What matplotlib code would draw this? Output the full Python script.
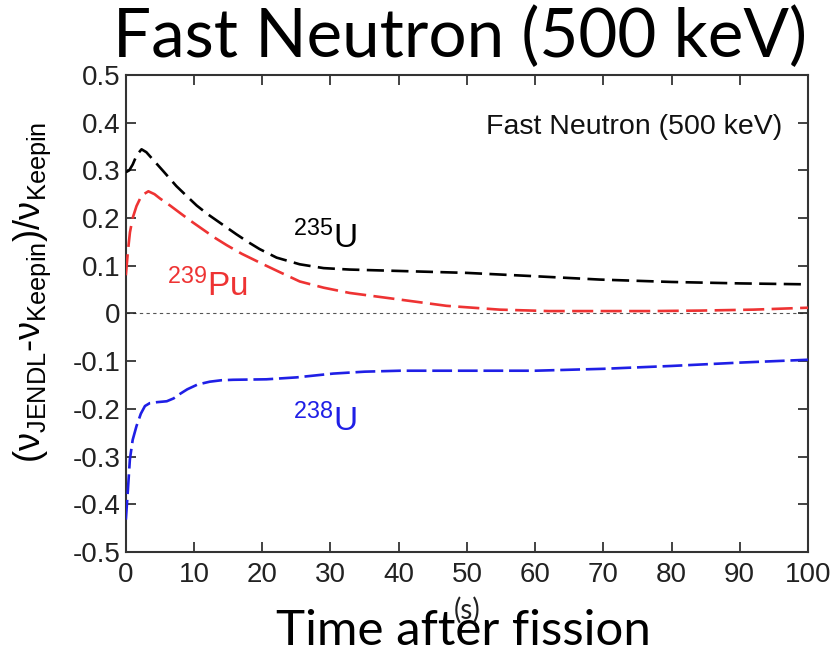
import matplotlib
matplotlib.use("Agg")
import matplotlib.pyplot as plt

plt.rcParams['mathtext.fontset'] = 'custom'
plt.rcParams['mathtext.rm'] = 'Liberation Sans'
plt.rcParams['mathtext.it'] = 'Liberation Sans:italic'
plt.rcParams['mathtext.bf'] = 'Liberation Sans:bold'
plt.rcParams['font.family'] = ['Liberation Sans', 'DejaVu Sans']

# Relative difference of delayed neutron yield, JENDL vs Keepin
t_u235 = [0.0, 0.5, 1.0, 1.6, 2.3, 3.0, 4.0, 5.5, 7.4, 9.0, 10.4, 12.0, 13.8, 16.2, 18.0, 19.6, 22.1, 25.5, 29.0, 32.8, 40.2, 50.0, 60.0, 69.5, 80.0, 90.0, 100.0]
v_u235 = [0.296, 0.300, 0.312, 0.332, 0.344, 0.338, 0.322, 0.298, 0.267, 0.245, 0.226, 0.208, 0.190, 0.166, 0.149, 0.135, 0.117, 0.103, 0.095, 0.092, 0.089, 0.085, 0.078, 0.071, 0.066, 0.063, 0.061]

t_pu239 = [0.0, 0.3, 0.6, 1.0, 1.56, 2.3, 3.3, 4.2, 5.0, 6.5, 7.9, 9.5, 11.3, 13.0, 14.8, 17.0, 20.0, 22.5, 25.5, 29.0, 32.8, 40.2, 47.0, 54.8, 62.0, 69.5, 77.0, 84.2, 92.0, 100.0]
v_pu239 = [0.080, 0.130, 0.170, 0.200, 0.225, 0.247, 0.256, 0.250, 0.241, 0.226, 0.211, 0.194, 0.176, 0.159, 0.143, 0.125, 0.104, 0.087, 0.067, 0.054, 0.043, 0.029, 0.016, 0.008, 0.005, 0.005, 0.005, 0.006, 0.008, 0.012]

t_u238 = [0.0, 0.3, 0.59, 1.0, 1.56, 2.2, 2.8, 3.5, 4.5, 6.0, 7.0, 8.0, 9.0, 10.5, 12.3, 14.0, 15.7, 20.6, 25.0, 30.4, 35.0, 40.2, 50.0, 60.0, 70.0, 80.0, 90.0, 100.0]
v_u238 = [-0.432, -0.370, -0.306, -0.265, -0.236, -0.210, -0.194, -0.188, -0.186, -0.184, -0.178, -0.168, -0.159, -0.149, -0.143, -0.140, -0.139, -0.138, -0.134, -0.126, -0.122, -0.120, -0.120, -0.120, -0.116, -0.110, -0.103, -0.097]

x_ticks = list(range(0, 101, 10))
y_ticks = [0.5, 0.4, 0.3, 0.2, 0.1, 0.0, -0.1, -0.2, -0.3, -0.4, -0.5]
y_tick_labels = ['0.5', '0.4', '0.3', '0.2', '0.1', '0', '-0.1', '-0.2', '-0.3', '-0.4', '-0.5']

fig = plt.figure(figsize=(8.39, 6.51), dpi=100)
ax = fig.add_axes([0.150, 0.152, 0.813, 0.733])

ax.axhline(0.0, color='#555555', lw=0.8, ls=(0, (3, 3)), zorder=1)

ax.plot(t_u235, v_u235, color='black', lw=1.9, ls=(0, (6.5, 2.8)), zorder=3)
ax.plot(t_pu239, v_pu239, color='#ee3333', lw=1.9, ls=(0, (8, 2.8)), zorder=3)
ax.plot(t_u238, v_u238, color='#1f1fe6', lw=1.9, ls=(0, (7.5, 2.2)), zorder=3)

ax.set_xlim(0, 100)
ax.set_ylim(-0.5, 0.5)
ax.set_xticks(x_ticks)
ax.set_yticks(y_ticks)
ax.set_yticklabels(y_tick_labels)
ax.tick_params(direction='in', length=7, width=1.2, top=True, right=True,
               labelsize=20, colors='#222222')
ax.tick_params(axis='x', pad=7)
ax.tick_params(axis='y', pad=4)
for s in ax.spines.values():
    s.set_linewidth(1.5)
    s.set_color('#333333')

ax.set_ylabel(r'(ν$_{\mathrm{JENDL}}$-ν$_{\mathrm{Keepin}}$)/ν$_{\mathrm{Keepin}}$',
              fontsize=26)
ax.yaxis.set_label_coords(-0.107, 0.545)

ax.text(0.962, 0.891, 'Fast Neutron (500 keV)', transform=ax.transAxes,
        ha='right', va='center', fontsize=20.5, color='#111111')

ax.text(29.2, 0.158, r'$^{235}\mathrm{U}$', color='black', fontsize=24, ha='center', va='center')
ax.text(12.0, 0.058, r'$^{239}\mathrm{Pu}$', color='#ee3333', fontsize=24, ha='center', va='center')
ax.text(29.2, -0.226, r'$^{238}\mathrm{U}$', color='#1f1fe6', fontsize=24, ha='center', va='center')

fig.text(0.548, 0.942, 'Fast Neutron (500 keV)', ha='center', va='center',
         fontsize=48.5, family=['Lato', 'DejaVu Sans'], color='black')
fig.text(0.552, 0.030, 'Time after fission', ha='center', va='center',
         fontsize=35.5, family=['Lato', 'DejaVu Sans'], color='black')
fig.text(0.557, 0.063, '(s)', ha='center', va='center',
         fontsize=20, family=['Lato', 'DejaVu Sans'], color='#222222')

fig.savefig('out.png', dpi=100)
